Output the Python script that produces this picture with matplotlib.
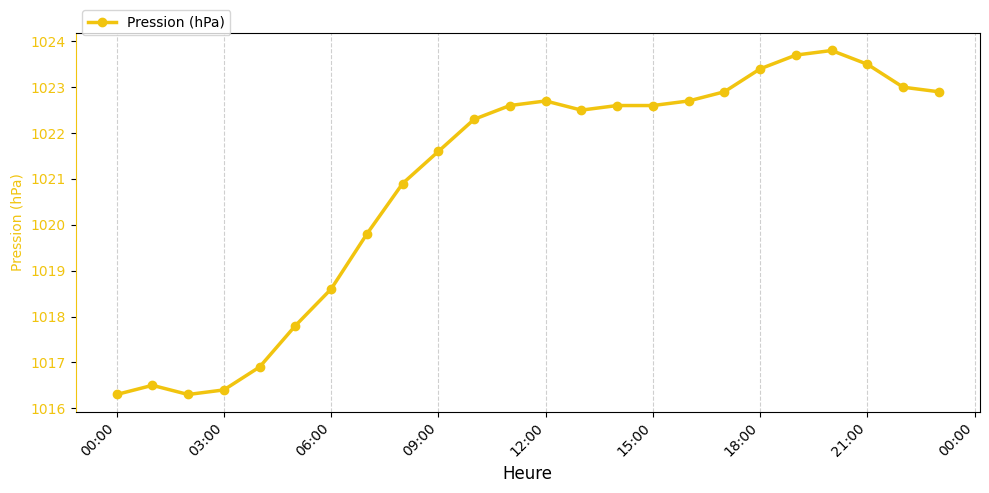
import matplotlib
matplotlib.use("Agg")
import matplotlib.pyplot as plt
import matplotlib.dates as mdates
import pandas as pd

hours = pd.date_range("2024-01-01 00:00", periods=24, freq="h")
pression = [1016.3, 1016.5, 1016.3, 1016.4, 1016.9, 1017.8, 1018.6, 1019.8,
            1020.9, 1021.6, 1022.3, 1022.6, 1022.7, 1022.5, 1022.6, 1022.6,
            1022.7, 1022.9, 1023.4, 1023.7, 1023.8, 1023.5, 1023.0, 1022.9]

color = "#f1c40f"

fig = plt.figure(figsize=(9.89, 4.93), dpi=100)
ax = fig.add_axes([75.5/989, 1-411.7/493, (980-75.5)/989, (411.7-33.3)/493])
ax.plot(hours, pression, color=color, marker="o", linewidth=2.5, markersize=6,
        label="Pression (hPa)")
ax.set_ylabel("Pression (hPa)", color=color)
ax.tick_params(axis="y", labelcolor=color)
ax.spines["left"].set_color(color)
ax.set_xlabel("Heure", fontsize=12)
ax.xaxis.set_major_locator(mdates.HourLocator(interval=3))
ax.xaxis.set_major_formatter(mdates.DateFormatter("%H:%M"))
plt.setp(ax.get_xticklabels(), rotation=45, ha="right")
ax.grid(axis="x", linestyle="--", alpha=0.6)
ax.legend(loc="upper left", bbox_to_anchor=(0, 1.08))

fig.savefig("out.png", dpi=100)
